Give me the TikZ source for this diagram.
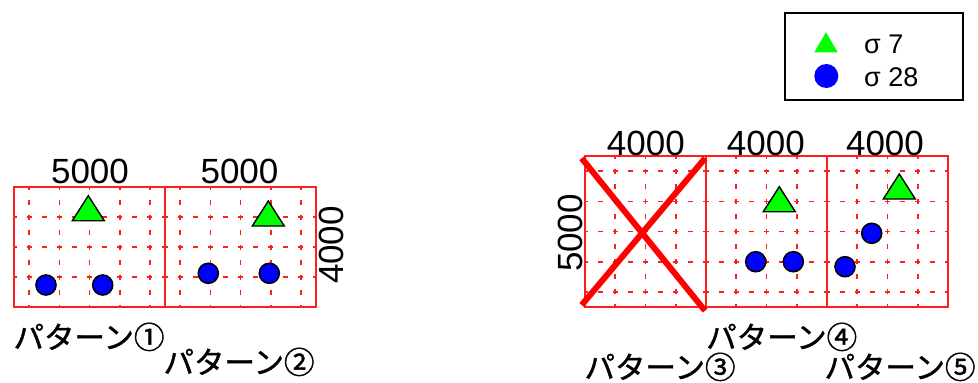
\documentclass[tikz,border=0pt]{standalone}
\usepackage{fontspec}
\setmainfont{Liberation Sans}
\newfontfamily\jpfont[FakeBold=1.2]{Noto Sans CJK JP}
\definecolor{mkgreen}{RGB}{0,255,0}
\definecolor{mkblue}{RGB}{0,0,255}
\definecolor{gridred}{RGB}{255,30,30}
\tikzset{
  gridseg/.style={draw=gridred, line width=1.6pt},
  border/.style={draw=gridred, line width=1.3pt},
  xmark/.style={draw=red, line width=6pt},
  trimark/.style={fill=mkgreen, draw=black, line width=1.4pt, line join=miter},
  dotmark/.style={fill=mkblue, draw=black, line width=1.6pt},
  dimlab/.style={inner sep=0pt, font=\fontsize{35}{40}\selectfont},
  patlab/.style={inner sep=0pt, anchor=base, font=\jpfont\fontsize{30.5}{36}\selectfont},
  leglab/.style={inner sep=0pt, anchor=base west, font=\fontsize{27}{32}\selectfont}
}
\newcommand{\mytri}[2]{\filldraw[trimark] ({#1-16},#2) -- ({#1+16},#2) -- (#1,{#2-25}) -- cycle;}
\newcommand{\mydot}[2]{\filldraw[dotmark] (#1,#2) circle[radius=10pt];}
\begin{document}
\begin{tikzpicture}[x=1pt,y=-1pt]
\useasboundingbox (0,0) rectangle (978,383);

% ---------- left group (5000 x 4000 panels) ----------
\begin{scope}
\clip (14,187) rectangle (316,307);
\foreach \px in {14,165} {
  \foreach \dx in {15.1,45.3,75.5,105.7,135.9}
    \foreach \k in {0,...,8}
      \draw[gridseg] ({\px+\dx},{184.5+15*\k}) -- ++(0,5);
  \foreach \dy in {30,60,90}
    \foreach \k in {0,...,10}
      \draw[gridseg] ({\px-2.5+15*\k},{187+\dy}) -- ++(5,0);
}
\end{scope}
\draw[border] (14,187) rectangle (316,307);
\draw[border] (165,187) -- (165,307);

% ---------- right group (4000 x 5000 panels) ----------
\begin{scope}
\clip (585,156) rectangle (948,307);
\foreach \px in {585,706,827} {
  \foreach \dx in {30.25,60.5,90.75}
    \foreach \k in {0,...,10}
      \draw[gridseg] ({\px+\dx},{153.5+15*\k}) -- ++(0,5);
  \foreach \dy in {15.1,45.3,75.5,105.7,135.9}
    \foreach \k in {0,...,8}
      \draw[gridseg] ({\px-2.5+15*\k},{156+\dy}) -- ++(5,0);
}
\end{scope}
\draw[border] (585,156) rectangle (948,307);
\draw[border] (706,156) -- (706,307);
\draw[border] (827,156) -- (827,307);

% red cross on pattern 3
\draw[xmark] (581.7,158.3) -- (705,310.7);
\draw[xmark] (705,158.3) -- (581.7,305);

% ---------- markers ----------
\mytri{88.3}{220.7}
\mydot{46}{285}
\mydot{102.7}{285}

\mytri{268.3}{226}
\mydot{208.3}{273.3}
\mydot{269.3}{273.3}

\mytri{779.3}{211.7}
\mydot{755.7}{261.7}
\mydot{793.3}{261.7}

\mytri{899.3}{199}
\mydot{871.7}{233.3}
\mydot{845}{266.7}

% ---------- dimension labels ----------
\node[dimlab, anchor=base] (w1) at (90,183) {5000};
\node[dimlab, anchor=base] (w2) at (239.5,183) {5000};
\node[dimlab, rotate=90] (h1) at (331,245) {4000};
\node[dimlab, anchor=base] (w3) at (645.8,155) {4000};
\node[dimlab, anchor=base] (w4) at (765.8,155) {4000};
\node[dimlab, anchor=base] (w5) at (885,155) {4000};
\node[dimlab, rotate=90] (h2) at (570,233) {5000};

% ---------- pattern labels ----------
\node[patlab] (p1) at (89,348.5) {パターン①};
\node[patlab] (p2) at (239,373.5) {パターン②};
\node[patlab] (p4) at (781.7,348.5) {パターン④};
\node[patlab] (p3) at (660,378.5) {パターン③};
\node[patlab] (p5) at (900,378.5) {パターン⑤};

% ---------- legend ----------
\draw[line width=2.5pt] (785,13) rectangle (963,100);
\fill[mkgreen] (814.3,52.3) -- (837.7,52.3) -- (826,32.3) -- cycle;
\fill[mkblue] (826.3,76) circle[radius=12pt];
\node[leglab] (l1) at (864,53.3) {σ 7};
\node[leglab] (l2) at (864,86) {σ 28};
\end{tikzpicture}
\end{document}
